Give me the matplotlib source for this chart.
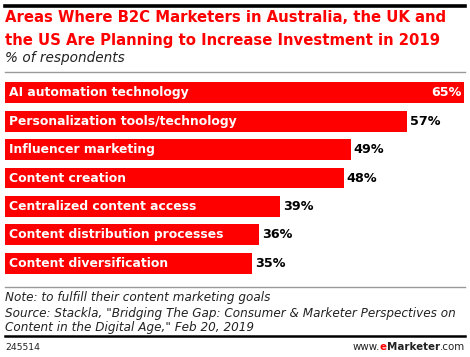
import matplotlib.pyplot as plt
from matplotlib.lines import Line2D

categories = [
    "AI automation technology",
    "Personalization tools/technology",
    "Influencer marketing",
    "Content creation",
    "Centralized content access",
    "Content distribution processes",
    "Content diversification",
]
values = [65, 57, 49, 48, 39, 36, 35]

W, H = 470, 357
fig = plt.figure(figsize=(W / 100, H / 100), dpi=100)

def px(x, y):
    # pixel coords (from top-left) -> figure fraction
    return x / W, 1 - y / H

red = "#ff0000"

# axes for bars: x 5..465, y 78.8..277.2
ax = fig.add_axes([5 / W, 1 - 277.2 / H, 460 / W, (277.2 - 78.8) / H])
ypos = list(range(len(values)))
ax.barh(ypos, values, height=0.74, color=red, edgecolor="none")
ax.set_xlim(0, 65.15)
ax.set_ylim(len(values) - 0.5, -0.5)
ax.axis("off")

for i, (c, v) in enumerate(zip(categories, values)):
    ax.text(0.5, i, c, color="white", fontweight="bold", fontsize=8.95,
            va="center", ha="left")
    if i == 0:
        ax.text(v - 0.3, i, f"{v}%", color="white", fontweight="bold",
                fontsize=9.2, va="center", ha="right")
    else:
        ax.text(v + 0.4, i, f"{v}%", color="black", fontweight="bold",
                fontsize=9.2, va="center", ha="left")

# rules
fig.add_artist(Line2D([5 / W, 465 / W], [1 - 6 / H] * 2, color="black", lw=2.6))
fig.add_artist(Line2D([5 / W, 465 / W], [1 - 72 / H] * 2, color="#999999", lw=1))
fig.add_artist(Line2D([5 / W, 465 / W], [1 - 287 / H] * 2, color="#999999", lw=1))
fig.add_artist(Line2D([5 / W, 465 / W], [1 - 336 / H] * 2, color="black", lw=1.8))

# titles
fig.text(*px(5, 18), "Areas Where B2C Marketers in Australia, the UK and",
         color=red, fontweight="bold", fontsize=10.75, va="center", ha="left")
fig.text(*px(5, 40), "the US Are Planning to Increase Investment in 2019",
         color=red, fontweight="bold", fontsize=10.75, va="center", ha="left")
fig.text(*px(5, 58), "% of respondents", color="#222222", style="italic",
         fontsize=9.8, va="center", ha="left")

# notes
note_kw = dict(style="italic", fontsize=8.65, va="center", ha="left", color="#222222")
fig.text(*px(5, 298), "Note: to fulfill their content marketing goals", **note_kw)
fig.text(*px(5, 313), 'Source: Stackla, "Bridging The Gap: Consumer & Marketer Perspectives on', **note_kw)
fig.text(*px(5, 327), 'Content in the Digital Age," Feb 20, 2019', **note_kw)

fig.text(*px(5, 347), "245514", fontsize=6.7, va="center", ha="left", color="#222222")

# footer brand: www. + red e + bold Marketer + .com
t_com = fig.text(*px(465, 347), ".com", fontsize=7.4, va="center", ha="right", color="#222222")
fig.canvas.draw()
r = fig.canvas.get_renderer()
bb = t_com.get_window_extent(r)
t_mk = fig.text(bb.x0 / W, 1 - 347 / H, "Marketer", fontsize=7.4, fontweight="bold",
                va="center", ha="right", color="#222222")
bb = t_mk.get_window_extent(r)
t_e = fig.text(bb.x0 / W, 1 - 347 / H, "e", fontsize=7.4, fontweight="bold",
               va="center", ha="right", color=red)
bb = t_e.get_window_extent(r)
fig.text(bb.x0 / W, 1 - 347 / H, "www.", fontsize=7.4, va="center", ha="right",
         color="#222222")

fig.savefig("out.png", dpi=100)
